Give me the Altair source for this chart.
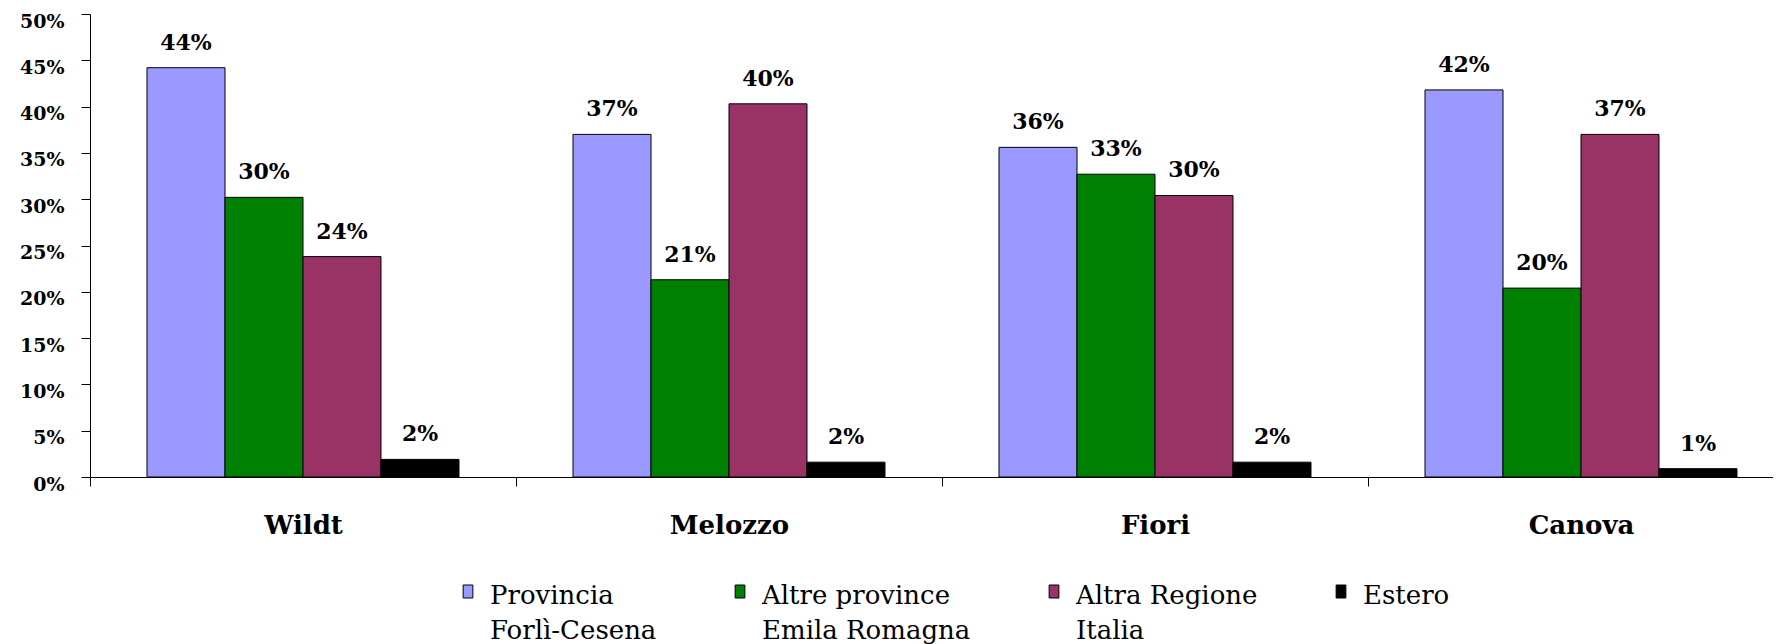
import altair as alt
import pandas as pd

# ---- data ----
categories = ["Wildt", "Melozzo", "Fiori", "Canova"]
series = [
    "Provincia|Forlì-Cesena",
    "Altre province|Emila Romagna",
    "Altra Regione|Italia",
    "Estero|",
]
colors = ["#9999FF", "#008000", "#993366", "#000000"]

provincia = [0.442, 0.370, 0.356, 0.418]
altre_province = [0.302, 0.213, 0.327, 0.204]
altra_regione = [0.238, 0.403, 0.304, 0.370]
estero = [0.019, 0.016, 0.016, 0.009]

y_ticks = [0.0, 0.05, 0.10, 0.15, 0.20, 0.25, 0.30, 0.35, 0.40, 0.45, 0.50]

rows = []
for s, vals in zip(series, [provincia, altre_province, altra_regione, estero]):
    for c, v in zip(categories, vals):
        rows.append({"Museo": c, "Provenienza": s, "Quota": v})
df = pd.DataFrame(rows)

FONT = "DejaVu Serif"

x = alt.X(
    "Museo:N",
    sort=categories,
    scale=alt.Scale(paddingInner=0, paddingOuter=0),
    axis=alt.Axis(
        title=None,
        labelAngle=0,
        tickBand="extent",
        tickSize=9,
        labelPadding=26,
        labelFont=FONT,
        labelFontSize=26,
        labelFontWeight="bold",
        labelColor="black",
        domainColor="black",
        tickColor="black",
        grid=False,
    ),
)
xoff = alt.XOffset(
    "Provenienza:N",
    sort=series,
    scale=alt.Scale(paddingInner=0, paddingOuter=0.731),
)
y = alt.Y(
    "Quota:Q",
    scale=alt.Scale(domain=[0, 0.5], nice=False),
    axis=alt.Axis(
        title=None,
        values=y_ticks,
        format=".0%",
        grid=False,
        tickSize=9,
        labelPadding=17,
        labelOffset=7,
        labelFont=FONT,
        labelFontSize=19,
        labelFontWeight="bold",
        labelColor="black",
        domainColor="black",
        tickColor="black",
    ),
)
color = alt.Color(
    "Provenienza:N",
    sort=series,
    scale=alt.Scale(domain=series, range=colors),
    legend=alt.Legend(
        title=None,
        orient="none",
        legendX=365,
        legendY=556,
        direction="horizontal",
        columns=4,
        columnPadding=70,
        symbolType="M-0.75,0.31H0.75V2.31H-0.75Z",
        symbolSize=169,
        symbolStrokeColor="black",
        symbolStrokeWidth=1,
        symbolOpacity=1,
        labelFont=FONT,
        labelFontSize=26,
        labelLimit=600,
        labelOffset=9,
        labelBaseline="top",
        labelColor="black",
        labelExpr="split(datum.label, '|')",
    ),
)

bars = alt.Chart(df).mark_bar(stroke="black", strokeWidth=1, opacity=1).encode(
    x=x, xOffset=xoff, y=y, color=color
)
labels = alt.Chart(df).mark_text(
    dy=-25,
    baseline="middle",
    align="center",
    font=FONT,
    fontSize=22,
    fontWeight="bold",
    color="black",
).encode(
    x=x,
    xOffset=xoff,
    y=y,
    text=alt.Text("Quota:Q", format=".0%"),
)

chart = (
    alt.layer(bars, labels)
    .properties(
        width=1704,
        height=463,
        autosize=alt.AutoSizeParams(type="none"),
        padding={"left": 82, "top": 6, "right": -21, "bottom": 167},
        background="white",
    )
    .configure(
        style={"guide-label": {"lineHeight": 35}},
        view=alt.ViewConfig(strokeWidth=0),
    )
)

chart.save("out.html", embed_options={"renderer": "svg", "actions": False})
